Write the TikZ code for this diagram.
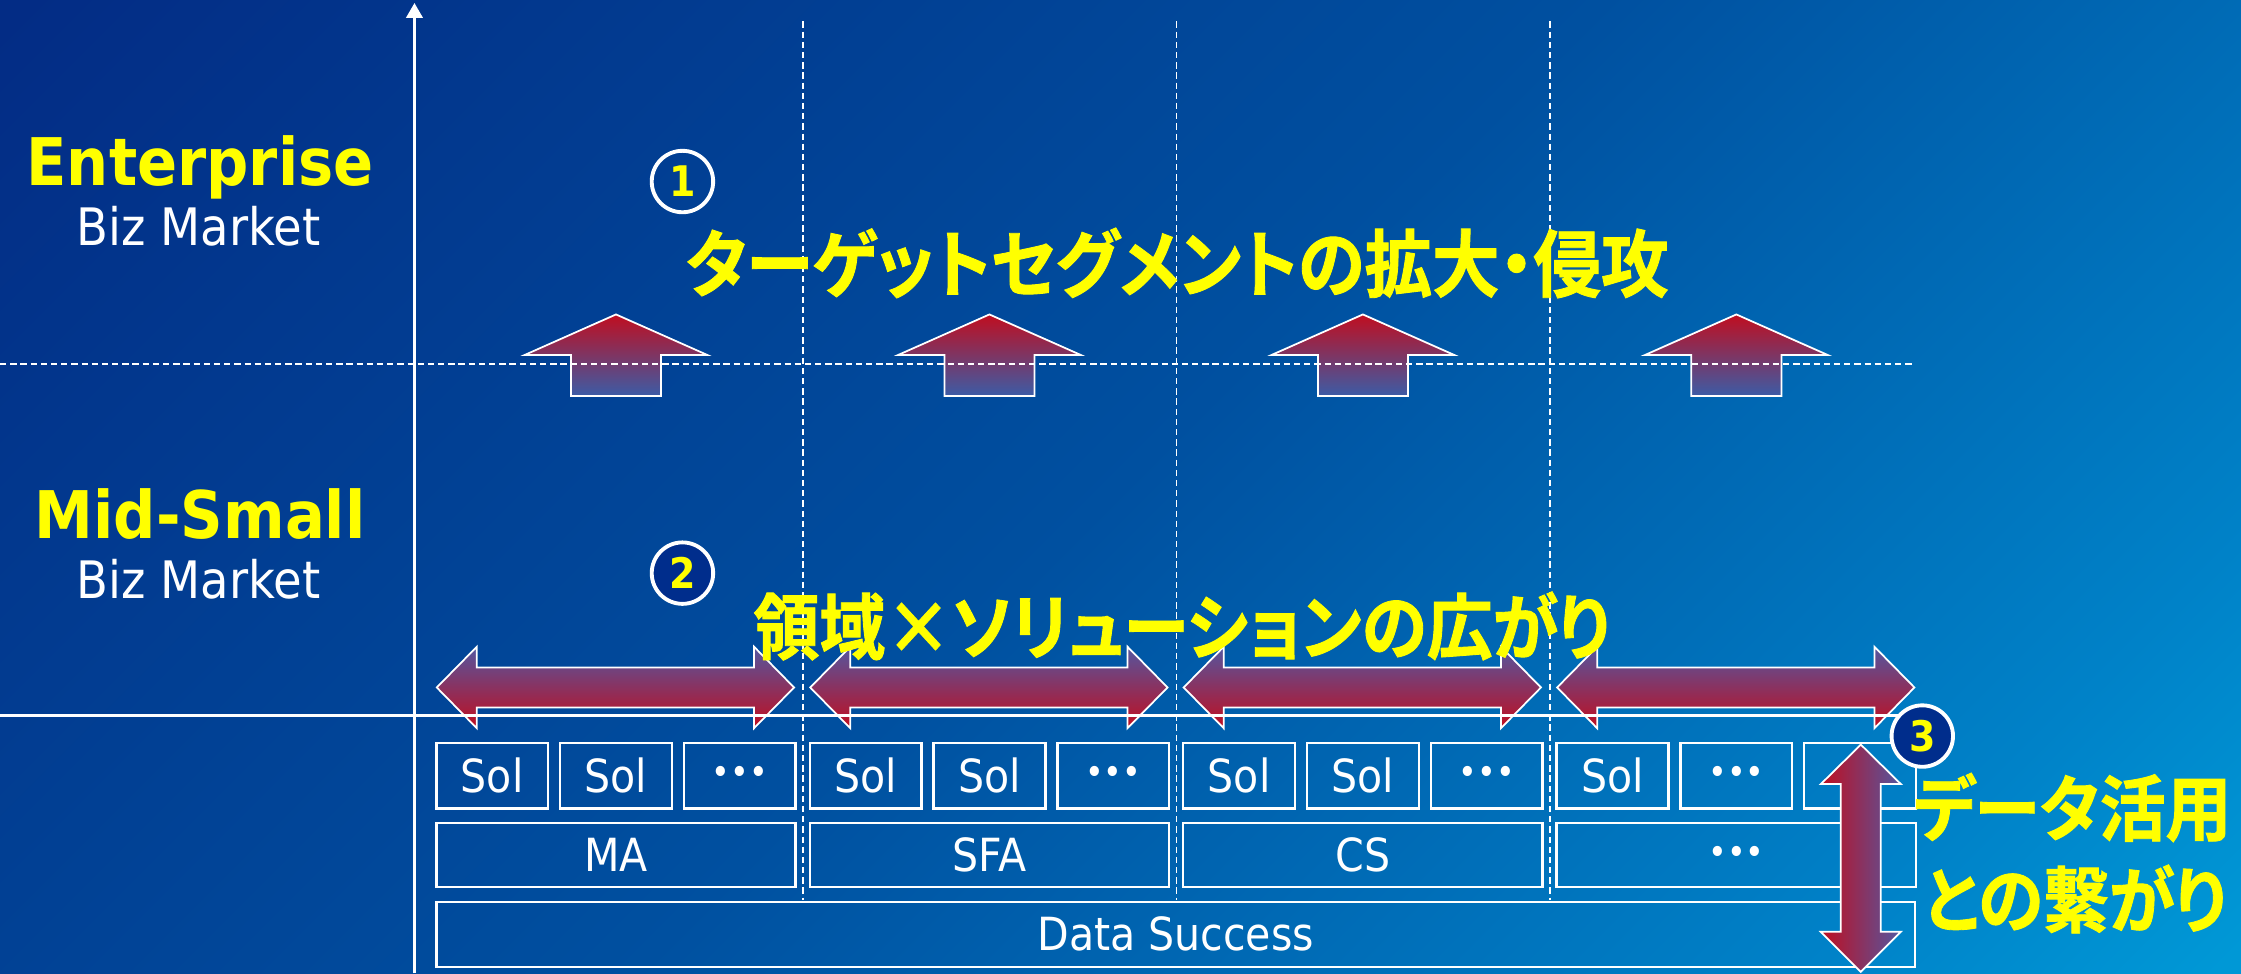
\documentclass[tikz,border=0pt]{standalone}
\usepackage{fontspec}
\setmainfont{DejaVu Sans Condensed}[BoldFont={DejaVu Sans Condensed Bold}]
\newfontfamily\jpfont{Noto Sans CJK JP Bold}[RawFeature=+palt, FakeBold=1.2, FakeStretch=0.92]
\usetikzlibrary{arrows.meta}
\definecolor{bgA}{RGB}{3,44,133}
\definecolor{bgB}{RGB}{0,80,160}
\definecolor{bgD}{RGB}{0,130,200}
\definecolor{bgC}{RGB}{0,152,214}
\definecolor{arRed}{RGB}{192,14,32}
\definecolor{arBlue}{RGB}{60,92,166}
\definecolor{arPurp}{RGB}{84,86,160}
\definecolor{navy}{RGB}{0,45,140}
\definecolor{ylw}{RGB}{255,255,0}
\pgfdeclarehorizontalshading{bgsh}{100bp}{color(0bp)=(bgA); color(15bp)=(bgA); color(50bp)=(bgB); color(76bp)=(bgD); color(85bp)=(bgC); color(100bp)=(bgC)}
\newlength{\unitpx}\setlength{\unitpx}{0.014292cm}
\newcommand{\threedots}{{\fontsize{10}{12}\selectfont •••}}
\begin{document}
\begin{tikzpicture}[x=0.014292cm, y=-0.014292cm,
  dashln/.style={draw=white, line width=0.45pt, dash pattern=on 1.8pt off 1.1pt},
  axisln/.style={draw=white, line width=1pt},
  sbox/.style={draw=white, line width=0.7pt, inner sep=0pt, outer sep=0pt, text=white, font=\fontsize{13}{15}\selectfont},
  uparr/.style={draw=white, line width=0.5pt, top color=arRed, bottom color=arBlue},
  harr/.style={draw=white, line width=0.5pt, top color=arPurp, bottom color=arRed},
  varr/.style={draw=white, line width=0.5pt, left color=arRed, right color=arPurp},
  circ/.style={circle, draw=white, line width=1.1pt, minimum size=43\unitpx, inner sep=0pt, text=ylw, font=\bfseries\fontsize{12}{14}\selectfont},
  jptitle/.style={text=ylw, font=\jpfont\fontsize{20.9}{24}\selectfont, inner sep=0pt},
  jptitleb/.style={text=ylw, font=\jpfont\fontsize{20.4}{24}\selectfont, inner sep=0pt},
  jpside/.style={text=ylw, font=\jpfont\fontsize{20.4}{24}\selectfont, inner sep=0pt},
  seglab/.style={text=ylw, font=\bfseries\fontsize{18.7}{22}\selectfont, inner sep=0pt},
  bizlab/.style={text=white, font=\fontsize{14.7}{17}\selectfont, inner sep=0pt}]
\useasboundingbox (0,0) rectangle (1568,681);
\shade[shading=bgsh, shading angle=-45] (0,0) rectangle (1568,681);

% up arrows
\foreach \cx in {431,692.3,953.6,1214.9} {
  \path[uparr] (\cx,220) -- (\cx+64,248.4) -- (\cx+31.5,248.4) -- (\cx+31.5,277)
    -- (\cx-31.5,277) -- (\cx-31.5,248.4) -- (\cx-64,248.4) -- cycle;
}

% dashed guide lines
\coordinate (hdL) at (0,254.7);
\coordinate (hdR) at (1338,254.7);
\draw[dashln] (hdL) -- (hdR);
\foreach \vx [count=\i] in {562,823.2,1084.5} {
  \coordinate (vdT\i) at (\vx,15);
  \coordinate (vdB\i) at (\vx,630);
  \draw[dashln] (vdT\i) -- (vdB\i);
}

% boxes
\foreach \g/\la/\lb/\lc/\lm in {0/Sol/Sol/\threedots/MA, 1/Sol/Sol/\threedots/SFA, 2/Sol/Sol/\threedots/CS, 3/Sol/\threedots//\threedots} {
  \pgfmathsetmacro{\gl}{305.3+261.3*\g}
  \node[sbox, minimum width=78.2\unitpx, minimum height=45.9\unitpx] (s\g a) at (\gl+39.1,542.7) {\la};
  \node[sbox, minimum width=78.2\unitpx, minimum height=45.9\unitpx] (s\g b) at (\gl+125.7,542.7) {\lb};
  \node[sbox, minimum width=78.2\unitpx, minimum height=45.9\unitpx] (s\g c) at (\gl+212.3,542.7) {\lc};
  \node[sbox, minimum width=251.4\unitpx, minimum height=45.1\unitpx] (m\g) at (\gl+125.7,598.2) {\lm};
}
\node[sbox, minimum width=1034.7\unitpx, minimum height=45.4\unitpx] (data) at (822.65,653.7) {Data Success};

% horizontal double arrows
\foreach \g in {0,1,2,3} {
  \pgfmathsetmacro{\al}{305.6+261.3*\g}
  \pgfmathsetmacro{\ar}{\al+250}
  \path[harr] (\al,481) -- (\al+28,452.5) -- (\al+28,467) -- (\ar-28,467) -- (\ar-28,452.5)
    -- (\ar,481) -- (\ar-28,509.5) -- (\ar-28,495) -- (\al+28,495) -- (\al+28,509.5) -- cycle;
}

% axes
\coordinate (xaL) at (0,500.5);
\coordinate (xaR) at (1331,500.5);
\coordinate (yaB) at (290,681);
\coordinate (yaT) at (290,2);
\draw[axisln] (xaL) -- (xaR);
\draw[axisln, -{Triangle[length=4.3pt, width=4.6pt]}] (yaB) -- (yaT);

% vertical double arrow
\path[varr] (1302,521) -- (1330,548.6) -- (1316,548.6) -- (1316,652) -- (1330,652) -- (1302,680)
  -- (1274,652) -- (1288,652) -- (1288,548.6) -- (1274,548.6) -- cycle;

% numbered circles
\node[circ] (c1) at (477.5,127) {1};
\node[circ, fill=navy] (c2) at (477.5,401) {2};
\node[circ, fill=navy] (c3) at (1345,515) {3};

% labels
\node[seglab, anchor=base] (ent) at (140,129.5) {Enterprise};
\node[bizlab, anchor=base] (biz1) at (139,171.5) {Biz Market};
\node[seglab, anchor=base] (mid) at (140,376.5) {Mid-Small};
\node[bizlab, anchor=base] (biz2) at (139,418.5) {Biz Market};

\node[jptitle] (t1) at (823.5,184) {ターゲットセグメントの拡大・侵攻};
\node[jptitleb] (t2) at (827,438) {領域×ソリューションの広がり};
\node[jpside] (t3a) at (1450,565) {データ活用};
\node[jpside] (t3b) at (1452,629) {との繋がり};
\end{tikzpicture}
\end{document}
